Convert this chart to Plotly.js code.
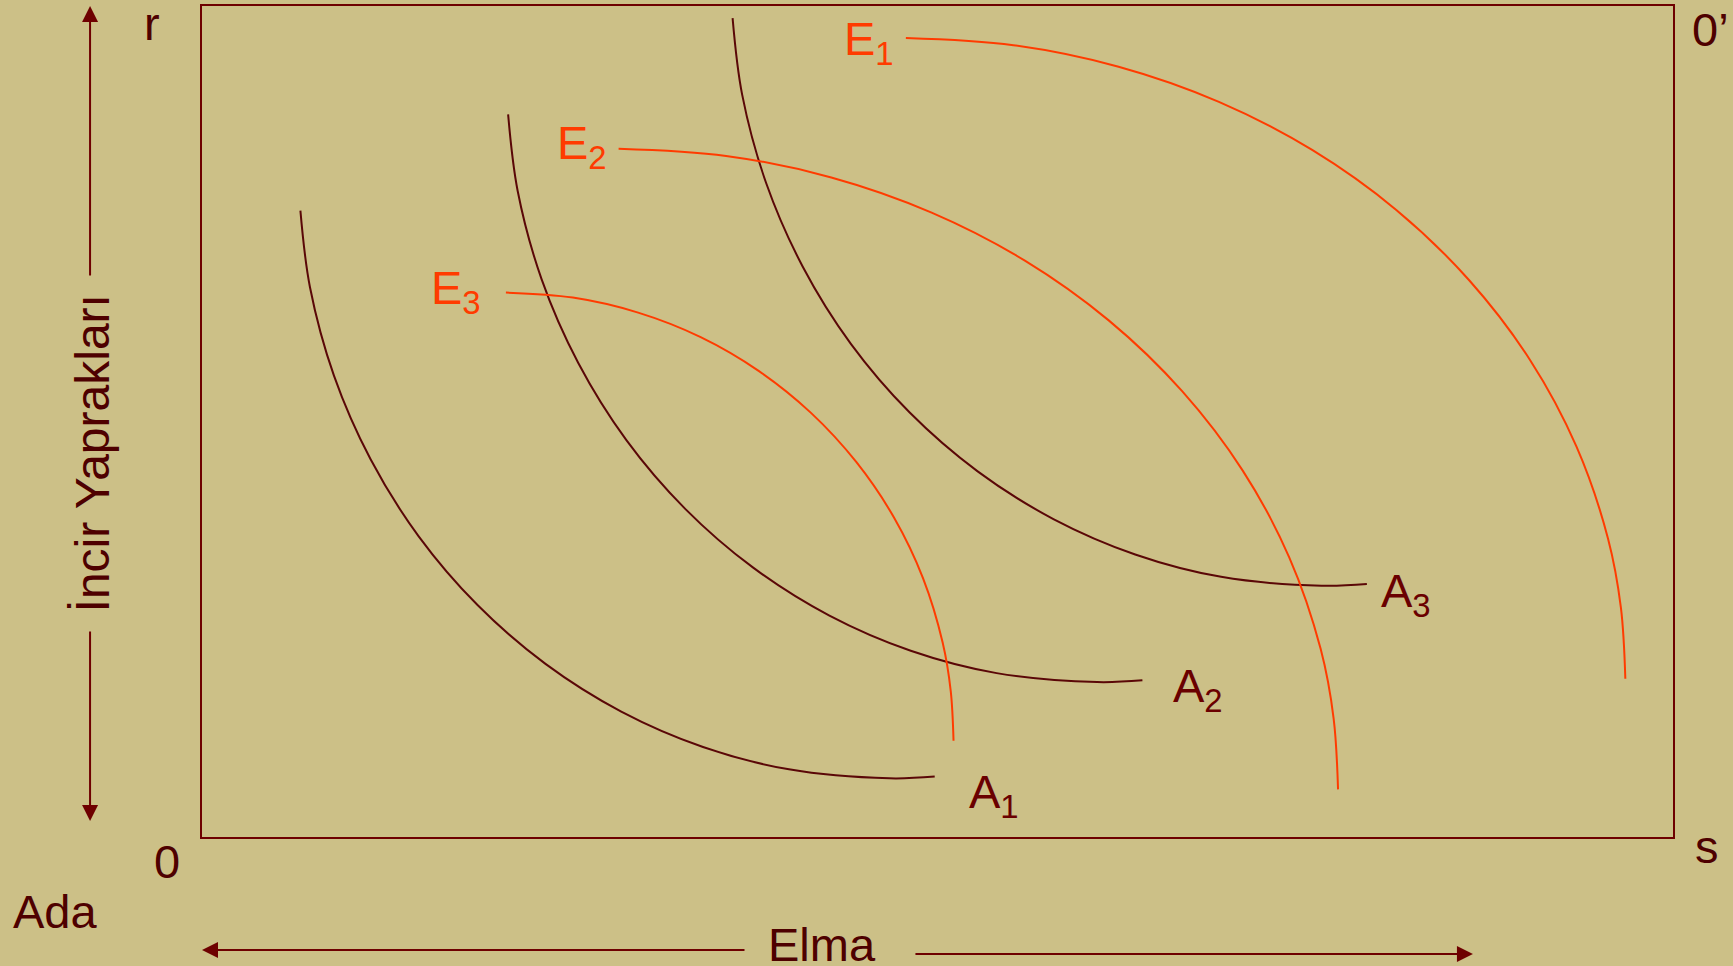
<!DOCTYPE html>
<html>
<head>
<meta charset="utf-8">
<script src="https://cdn.plot.ly/plotly-3.0.1.min.js"></script>
<style>
  html, body { margin: 0; padding: 0; background: #CCC087; }
  #chart { width: 1733px; height: 966px; }
</style>
</head>
<body>
<div id="chart"></div>
<script>
// Curve values (Elma on x, İncir Yaprakları on y, the box spans 0..100 on both axes)
const curveNames = ["A1", "A2", "A3", "E1", "E2", "E3"];

const a1X = [6.69, 7.34, 8.97, 11.46, 14.73, 18.73, 23.35, 28.50, 34.06, 39.90, 46.73, 49.81];
const a1Y = [75.37, 66.16, 55.53, 45.46, 36.18, 27.91, 20.83, 15.09, 10.83, 8.14, 7.06, 7.27];

const a2X = [20.81, 21.46, 23.09, 25.58, 28.85, 32.85, 37.47, 42.62, 48.18, 54.02, 60.85, 63.93];
const a2Y = [86.95, 77.74, 67.11, 57.04, 47.76, 39.49, 32.41, 26.67, 22.41, 19.72, 18.64, 18.85];

const a3X = [36.07, 36.72, 38.35, 40.84, 44.11, 48.11, 52.73, 57.88, 63.44, 69.28, 76.11, 79.19];
const a3Y = [98.54, 89.33, 78.70, 68.63, 59.35, 51.08, 44.00, 38.26, 34.00, 31.31, 30.23, 30.44];

const e1X = [47.85, 55.16, 62.31, 69.13, 75.47, 81.19, 86.16, 90.28, 93.44, 95.58, 96.46, 96.76];
const e1Y = [96.14, 95.28, 92.69, 88.46, 82.68, 75.46, 66.97, 57.41, 46.98, 35.93, 27.57, 19.05];

const e2X = [28.32, 35.63, 42.78, 49.60, 55.94, 61.66, 66.63, 70.75, 73.91, 76.05, 76.93, 77.23];
const e2Y = [82.82, 81.96, 79.37, 75.14, 69.36, 62.14, 53.65, 44.09, 33.66, 22.61, 14.25, 5.73];

const e3X = [20.66, 25.21, 29.65, 33.90, 37.84, 41.40, 44.49, 47.05, 49.02, 50.35, 50.90, 51.09];
const e3Y = [65.51, 64.91, 63.10, 60.15, 56.09, 51.04, 45.10, 38.42, 31.13, 23.40, 17.55, 11.58];

// Text labels
const axisLabelY = "İncir Yaprakları";
const axisLabelX = "Elma";
const cornerLabels = { origin: "0", origin2: "0’", top: "r", right: "s", owner: "Ada" };

const DARK = "#5A0707";
const BOX = "#6E0000";
const TEXT = "#4E0000";
const ALABEL = "#6A0000";
const RED = "#FF3B00";
const BG = "#CCC087";
const FONT = "'Liberation Sans', Arial, sans-serif";

function curve(x, y, color, name) {
  return { type: "scatter", mode: "lines", x: x, y: y, name: name,
           line: { color: color, width: 2, shape: "spline", smoothing: 1 },
           hoverinfo: "skip" };
}

const traces = [
  curve(a1X, a1Y, DARK, curveNames[0]),
  curve(a2X, a2Y, DARK, curveNames[1]),
  curve(a3X, a3Y, DARK, curveNames[2]),
  curve(e1X, e1Y, RED, curveNames[3]),
  curve(e2X, e2Y, RED, curveNames[4]),
  curve(e3X, e3Y, RED, curveNames[5])
];

function lbl(text, x, y, color) {
  return { text: text, x: x, y: y, xref: "x", yref: "y", showarrow: false,
           xanchor: "left", yanchor: "middle",
           font: { family: FONT, size: 47, color: color } };
}
function ptxt(text, x, y, opts) {
  return Object.assign({ text: text, x: x, y: y, xref: "paper", yref: "paper", showarrow: false,
           xanchor: "center", yanchor: "middle",
           font: { family: FONT, size: 47, color: TEXT } }, opts || {});
}
function arrow(x, y, ax, ay) {
  return { text: "", x: x, y: y, xref: "paper", yref: "paper", ax: ax, ay: ay,
           axref: "pixel", ayref: "pixel", showarrow: true, arrowhead: 2, arrowsize: 1.6,
           arrowwidth: 2, arrowcolor: BOX, standoff: 0 };
}

const annotations = [
  lbl("E<sub>1</sub>", 43.5, 95.7, RED),
  lbl("E<sub>2</sub>", 24.0, 83.2, RED),
  lbl("E<sub>3</sub>", 15.4, 65.7, RED),
  lbl("A<sub>1</sub>", 52.0, 5.1, ALABEL),
  lbl("A<sub>2</sub>", 65.9, 17.8, ALABEL),
  lbl("A<sub>3</sub>", 80.0, 29.2, ALABEL),
  ptxt(cornerLabels.top, -0.0343, 0.9790),
  ptxt(cornerLabels.origin, -0.0241, -0.029),
  ptxt(cornerLabels.owner, -0.0999, -0.090),
  ptxt(axisLabelX, 0.4218, -0.129),
  ptxt(cornerLabels.origin2, 1.0255, 0.972),
  ptxt(cornerLabels.right, 1.0231, -0.012),
  ptxt(axisLabelY, -0.0738, 0.4621, { textangle: -90, font: { family: FONT, size: 48, color: TEXT } }),
  arrow(-0.0761, 1.0, 0, 271),
  arrow(-0.0761, 0.01925, 0, -191),
  arrow(0.0, -0.136, 544, 0),
  arrow(0.864, -0.1408, -559, 0)
];

const axisCommon = { range: [0, 100], showgrid: false, zeroline: false, showticklabels: false,
                     ticks: "", showline: true, mirror: true, linecolor: BOX, linewidth: 2,
                     fixedrange: true };

const layout = {
  width: 1733, height: 966,
  margin: { l: 202, r: 60, t: 6, b: 129, pad: 0 },
  paper_bgcolor: BG, plot_bgcolor: BG,
  showlegend: false,
  xaxis: Object.assign({}, axisCommon),
  yaxis: Object.assign({}, axisCommon),
  annotations: annotations,
  font: { family: FONT }
};

Plotly.newPlot("chart", traces, layout, { displayModeBar: false, staticPlot: true });
</script>
</body>
</html>
